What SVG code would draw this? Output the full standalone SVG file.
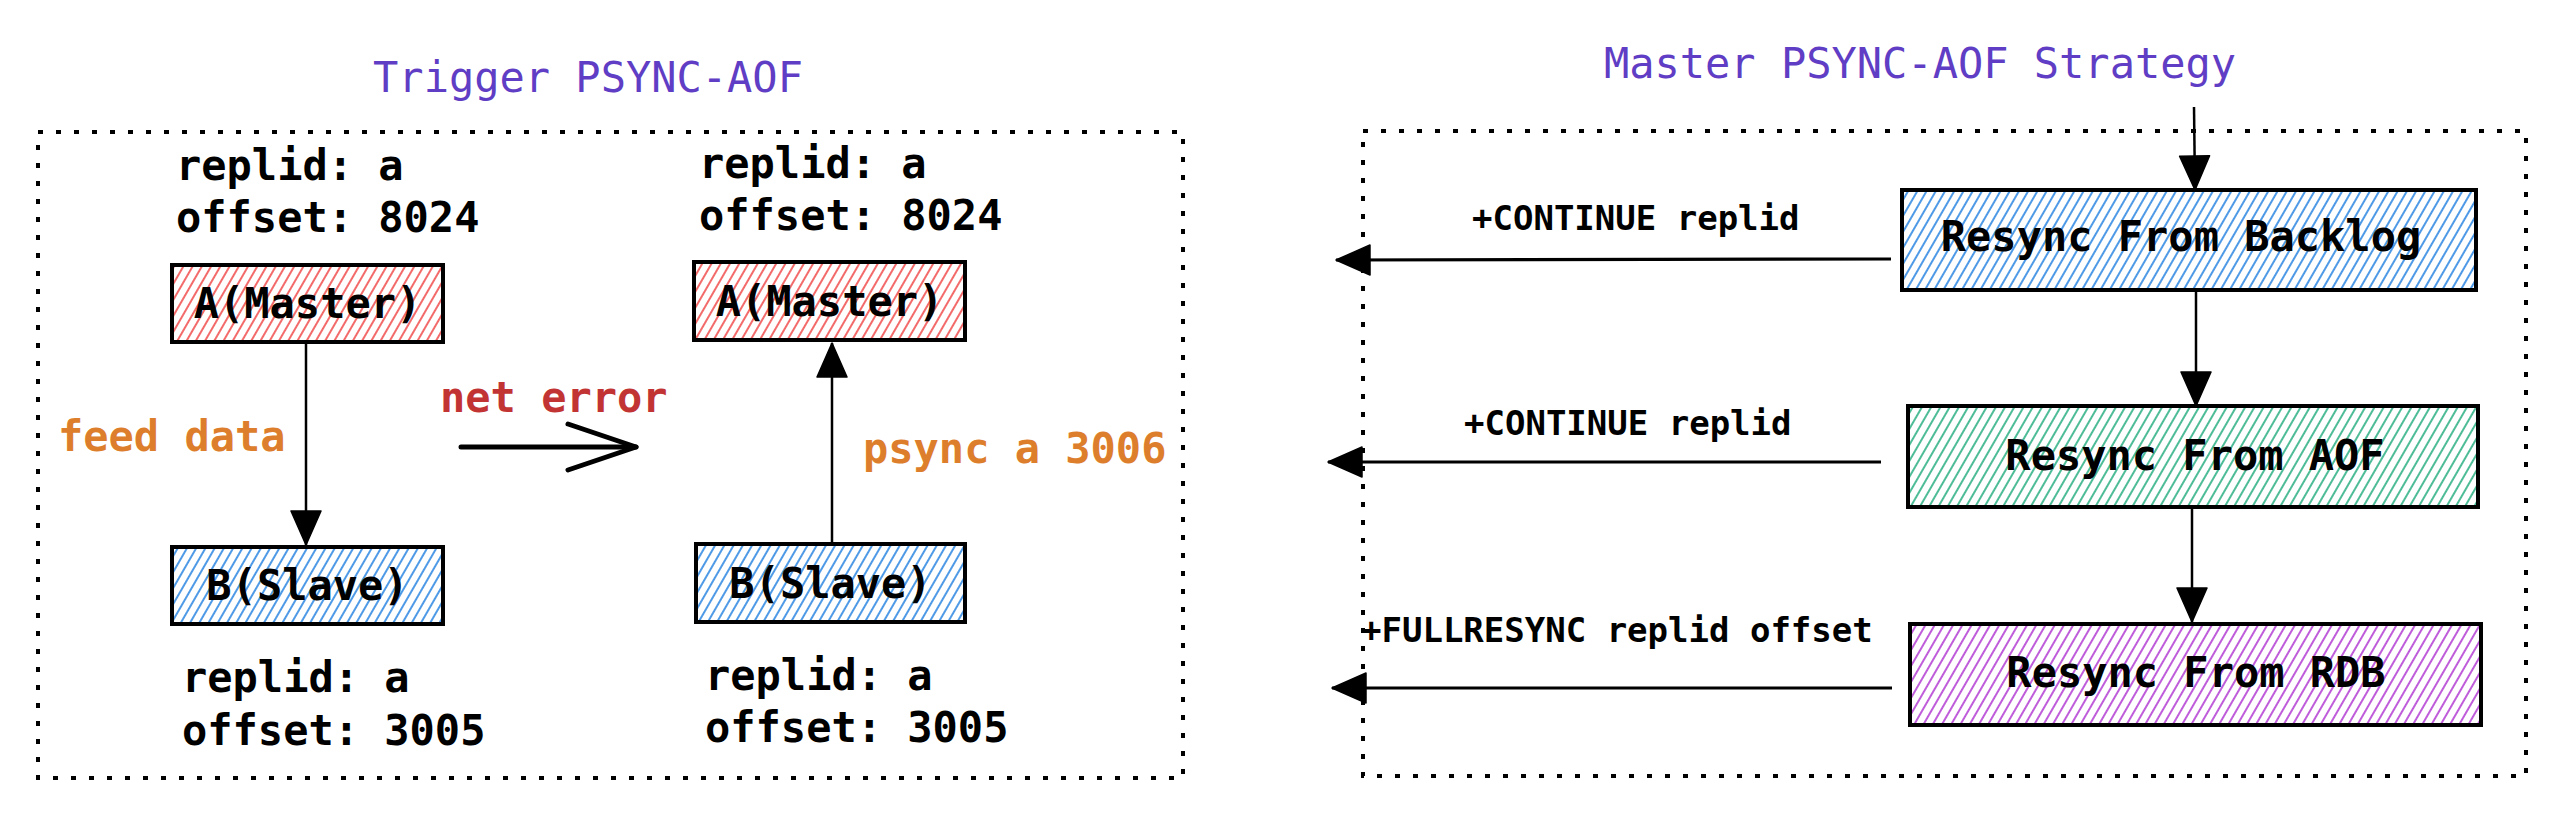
<svg xmlns="http://www.w3.org/2000/svg" width="2568" height="822" viewBox="0 0 2568 822">
<style>
.t{font-family:"DejaVu Sans Mono","Liberation Mono",monospace;fill:#000;font-weight:bold}
.big{font-size:42px}
.sm{font-size:34px}
.mid{text-anchor:middle}
.title{fill:#5f3dc4;font-weight:normal}
.orange{fill:#dd7e2c}
.red{fill:#c23434}
.box{stroke:#000;stroke-width:4}
.frame{fill:none;stroke:#000;stroke-width:4;stroke-dasharray:5 13}
.conn{fill:none;stroke:#000;stroke-width:2.5}
.connh{fill:none;stroke:#000;stroke-width:3.2}
</style>
<defs>
<pattern id="hRed" patternUnits="userSpaceOnUse" width="8" height="8" patternTransform="rotate(30)"><line x1="4" y1="0" x2="4" y2="8" stroke="#f25a5a" stroke-width="1.8"/></pattern>
<pattern id="hBlue" patternUnits="userSpaceOnUse" width="8" height="8" patternTransform="rotate(30)"><line x1="4" y1="0" x2="4" y2="8" stroke="#3b8fe4" stroke-width="1.8"/></pattern>
<pattern id="hGreen" patternUnits="userSpaceOnUse" width="8" height="8" patternTransform="rotate(30)"><line x1="4" y1="0" x2="4" y2="8" stroke="#3ab58c" stroke-width="1.8"/></pattern>
<pattern id="hPurple" patternUnits="userSpaceOnUse" width="8" height="8" patternTransform="rotate(30)"><line x1="4" y1="0" x2="4" y2="8" stroke="#b84ad6" stroke-width="1.8"/></pattern>
<marker id="tri" markerUnits="userSpaceOnUse" markerWidth="40" markerHeight="40" viewBox="-38 -20 40 40" refX="0" refY="0" orient="auto" overflow="visible"><path d="M-34,-15 L0,0 L-34,15 Z" fill="#000" stroke="#000" stroke-width="1.5" stroke-linejoin="round"/></marker>
<marker id="open" markerUnits="userSpaceOnUse" markerWidth="80" markerHeight="60" viewBox="-75 -30 80 60" refX="0" refY="0" orient="auto" overflow="visible"><path d="M-68,-23 L0,0 L-68,23" fill="none" stroke="#000" stroke-width="5" stroke-linecap="round" stroke-linejoin="round"/></marker>
</defs>
<rect width="2568" height="822" fill="#fff"/>

<g id="left-panel">
<text class="t big mid title" x="588" y="92">Trigger PSYNC-AOF</text>
<rect class="frame" x="38" y="132" width="1145" height="646"/>
</g>

<g id="left-a-state" class="t big"><text x="176" y="180">replid: a</text><text x="176" y="232">offset: 8024</text></g>
<g id="left-a"><rect class="box" fill="url(#hRed)" x="172" y="265" width="271" height="77"/><text class="t big mid" x="307.5" y="318">A(Master)</text></g>
<g id="left-b"><rect class="box" fill="url(#hBlue)" x="172" y="547" width="271" height="77"/><text class="t big mid" x="307.5" y="600">B(Slave)</text></g>
<g id="left-b-state" class="t big"><text x="182" y="692">replid: a</text><text x="182" y="745">offset: 3005</text></g>

<g id="right-a-state" class="t big"><text x="699" y="178">replid: a</text><text x="699" y="230">offset: 8024</text></g>
<g id="right-a"><rect class="box" fill="url(#hRed)" x="694" y="262" width="271" height="78"/><text class="t big mid" x="829.5" y="316">A(Master)</text></g>
<g id="right-b"><rect class="box" fill="url(#hBlue)" x="696" y="544" width="269" height="78"/><text class="t big mid" x="830.5" y="598">B(Slave)</text></g>
<g id="right-b-state" class="t big"><text x="705" y="690">replid: a</text><text x="705" y="742">offset: 3005</text></g>

<g id="right-panel">
<text class="t big mid title" x="1920" y="78">Master PSYNC-AOF Strategy</text>
<rect class="frame" x="1363" y="131" width="1163" height="645"/>
</g>
<g id="backlog"><rect class="box" fill="url(#hBlue)" x="1902" y="190" width="574" height="100"/><text class="t big mid" x="2181" y="251">Resync From Backlog</text></g>
<g id="aof"><rect class="box" fill="url(#hGreen)" x="1908" y="406" width="570" height="101"/><text class="t big mid" x="2195" y="470">Resync From AOF</text></g>
<g id="rdb"><rect class="box" fill="url(#hPurple)" x="1910" y="624" width="571" height="101"/><text class="t big mid" x="2196" y="687">Resync From RDB</text></g>

<g id="connectors">
<line class="conn" x1="306" y1="342" x2="306" y2="545" marker-end="url(#tri)"/>
<text class="t big orange" x="58" y="451">feed data</text>
<line x1="461" y1="447" x2="636" y2="447" stroke="#000" stroke-width="5" stroke-linecap="round" marker-end="url(#open)"/>
<text class="t big red" x="440" y="412">net error</text>
<line class="conn" x1="832" y1="544" x2="832" y2="343" marker-end="url(#tri)"/>
<text class="t big orange" x="863" y="463">psync a 3006</text>

<line class="conn" x1="2194" y1="107" x2="2195" y2="190" marker-end="url(#tri)"/>
<line class="conn" x1="2196" y1="290" x2="2196" y2="406" marker-end="url(#tri)"/>
<line class="conn" x1="2192" y1="507" x2="2192" y2="622" marker-end="url(#tri)"/>
<line class="connh" x1="1891" y1="259" x2="1336" y2="260" marker-end="url(#tri)"/>
<text class="t sm" x="1472" y="230">+CONTINUE replid</text>
<line class="connh" x1="1881" y1="462" x2="1328" y2="462" marker-end="url(#tri)"/>
<text class="t sm" x="1464" y="435">+CONTINUE replid</text>
<line class="connh" x1="1892" y1="688" x2="1332" y2="688" marker-end="url(#tri)"/>
<text class="t sm" x="1361" y="642">+FULLRESYNC replid offset</text>
</g>
</svg>
